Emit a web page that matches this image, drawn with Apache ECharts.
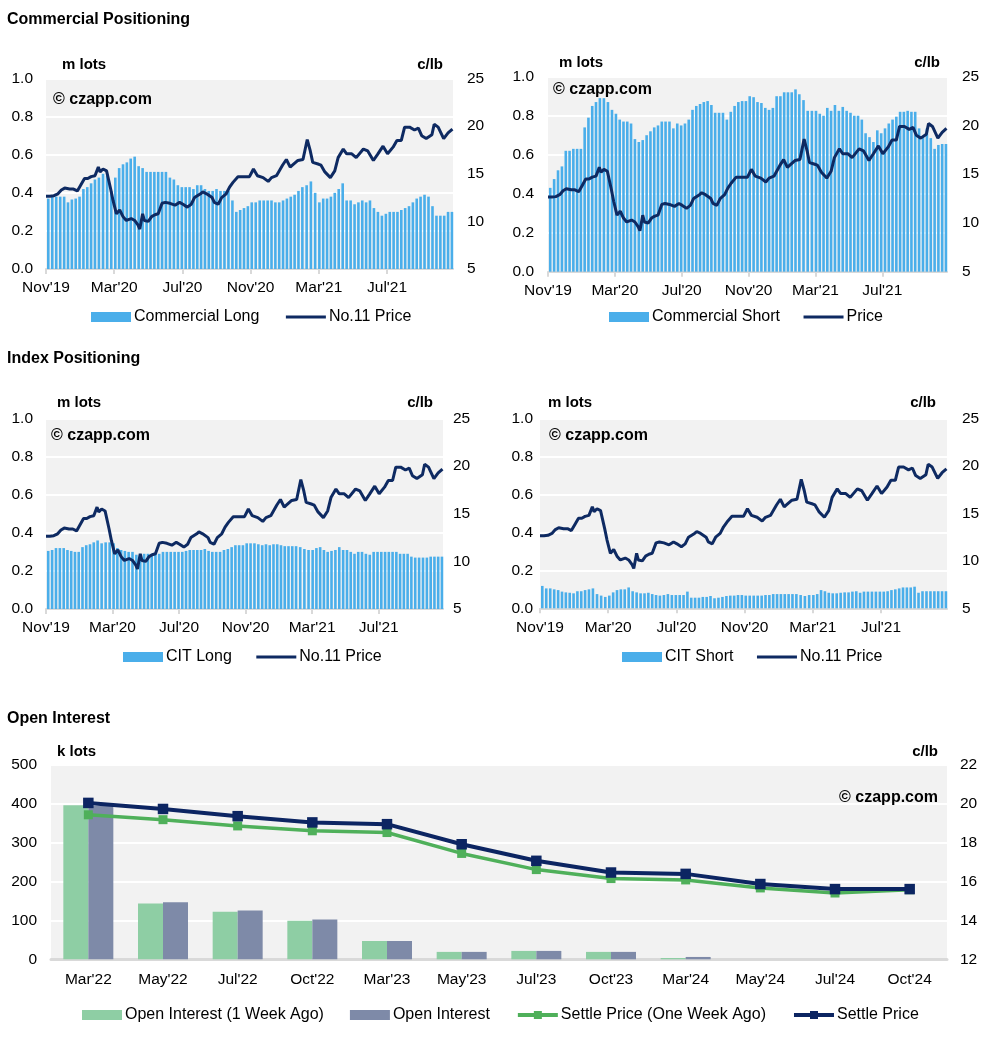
<!DOCTYPE html>
<html><head><meta charset="utf-8">
<script src="https://cdn.jsdelivr.net/npm/echarts@6/dist/echarts.min.js"></script>
<style>html,body{margin:0;padding:0;background:#fff}#c{width:1002px;height:1044px}</style>
</head><body><div id="c"></div>
<script>
// ---------- DATA ----------
const weekStart = '2019-11-05';   // first weekly (COT) report date
const commercialLong = [
 0.37,0.38,0.38,0.38, 0.38,0.35,0.365,0.37,0.38, 0.42,0.43,0.45,0.47, 0.48,0.50,0.49,0.41,
 0.48,0.53,0.55,0.56,0.58, 0.59,0.54,0.53,0.51, 0.51,0.51,0.51,0.51, 0.51,0.48,0.47,0.44,0.43,
 0.43,0.43,0.42,0.44, 0.44,0.42,0.41,0.41, 0.42,0.41,0.41,0.41,0.36, 0.30,0.31,0.32,0.33,
 0.35,0.35,0.36,0.36, 0.36,0.36,0.35,0.35,0.36, 0.37,0.38,0.39,0.41, 0.43,0.44,0.46,0.40,
 0.35,0.37,0.37,0.38,0.40, 0.42,0.45,0.36,0.36, 0.34,0.35,0.36,0.35, 0.36,0.32,0.30,0.28,0.29,
 0.30,0.30,0.30,0.31, 0.32,0.33,0.35,0.37,0.38, 0.39,0.38,0.33,0.28, 0.28,0.28,0.30,0.30
];
const commercialShort = [
 0.43,0.475,0.52,0.54, 0.62,0.62,0.63,0.63,0.63, 0.74,0.79,0.85,0.87, 0.89,0.89,0.87,0.83,
 0.81,0.78,0.77,0.77,0.76, 0.68,0.665,0.675,0.70, 0.72,0.74,0.75,0.77, 0.77,0.77,0.735,0.76,0.75,
 0.76,0.78,0.83,0.85, 0.86,0.87,0.875,0.855, 0.815,0.815,0.815,0.78,0.82, 0.85,0.87,0.875,0.875,
 0.90,0.895,0.87,0.865, 0.84,0.83,0.84,0.90,0.90, 0.92,0.92,0.92,0.935, 0.91,0.88,0.825,0.825,
 0.825,0.81,0.80,0.84,0.825, 0.855,0.825,0.845,0.825, 0.815,0.80,0.80,0.78, 0.71,0.69,0.665,0.725,0.71,
 0.735,0.76,0.78,0.795, 0.82,0.82,0.825,0.82,0.82, 0.735,0.69,0.735,0.685, 0.63,0.65,0.655,0.655
];
const citLong = [
 0.305,0.31,0.32,0.32, 0.32,0.31,0.305,0.30,0.30, 0.325,0.335,0.34,0.35, 0.36,0.345,0.35,0.35,
 0.345,0.32,0.31,0.305,0.30, 0.30,0.285,0.285,0.29, 0.29,0.29,0.29,0.29, 0.30,0.30,0.30,0.30,0.30,
 0.30,0.305,0.31,0.31, 0.31,0.31,0.315,0.305, 0.30,0.30,0.30,0.31,0.315, 0.325,0.335,0.335,0.335,
 0.345,0.345,0.345,0.34, 0.335,0.34,0.335,0.34,0.34, 0.335,0.33,0.33,0.33, 0.33,0.325,0.315,0.31,
 0.31,0.32,0.325,0.31,0.30, 0.305,0.31,0.325,0.31, 0.31,0.30,0.29,0.30, 0.30,0.29,0.285,0.30,0.30,
 0.30,0.30,0.30,0.30, 0.30,0.29,0.29,0.29,0.275, 0.27,0.27,0.27,0.27, 0.275,0.275,0.275,0.275
];
const citShort = [
 0.118,0.105,0.105,0.10, 0.096,0.088,0.084,0.082,0.079, 0.09,0.09,0.096,0.10, 0.105,0.075,0.067,0.06,
 0.067,0.084,0.096,0.10,0.10, 0.11,0.09,0.084,0.079, 0.079,0.082,0.075,0.07, 0.067,0.07,0.075,0.07,0.07,
 0.07,0.07,0.088,0.056, 0.056,0.056,0.06,0.06, 0.065,0.053,0.056,0.06,0.065, 0.067,0.067,0.07,0.07,
 0.067,0.067,0.067,0.067, 0.067,0.07,0.07,0.075,0.075, 0.075,0.075,0.075,0.075, 0.075,0.07,0.065,0.07,
 0.07,0.075,0.096,0.09,0.082, 0.079,0.079,0.082,0.084, 0.084,0.088,0.09,0.082, 0.088,0.088,0.088,0.088,0.088,
 0.088,0.09,0.096,0.10, 0.105,0.11,0.11,0.11,0.114, 0.082,0.09,0.09,0.09, 0.09,0.09,0.09,0.09
];
const priceDates = [
 '2019-11-01','2019-11-08','2019-11-15','2019-11-22','2019-11-28','2019-12-04','2019-12-13','2019-12-20','2019-12-27',
 '2020-01-03','2020-01-09','2020-01-15','2020-01-21','2020-01-28','2020-02-03','2020-02-06','2020-02-11','2020-02-17',
 '2020-02-24','2020-02-28','2020-03-05','2020-03-11','2020-03-17','2020-03-23','2020-04-01','2020-04-07','2020-04-13',
 '2020-04-16','2020-04-21','2020-04-24','2020-05-01','2020-05-07','2020-05-13','2020-05-19','2020-05-26','2020-06-01',
 '2020-06-09','2020-06-18','2020-06-26','2020-07-02','2020-07-10','2020-07-17','2020-07-23','2020-08-03','2020-08-07',
 '2020-08-14','2020-08-24','2020-08-28','2020-09-04','2020-09-10','2020-09-18','2020-09-24','2020-09-30','2020-10-09',
 '2020-10-21','2020-10-30','2020-11-06','2020-11-13','2020-11-23','2020-12-02','2020-12-08','2020-12-17','2020-12-28',
 '2021-01-04','2021-01-11','2021-01-15','2021-01-25','2021-02-03','2021-02-10','2021-02-15','2021-02-19','2021-03-01',
 '2021-03-05','2021-03-12','2021-03-22','2021-03-30','2021-04-05','2021-04-14','2021-04-20','2021-04-29','2021-05-07',
 '2021-05-20','2021-05-28','2021-06-07','2021-06-15','2021-06-24','2021-07-02','2021-07-12','2021-07-19','2021-07-27',
 '2021-08-02','2021-08-11','2021-08-20','2021-08-27','2021-09-02','2021-09-10','2021-09-20','2021-09-24','2021-10-01',
 '2021-10-11','2021-10-19','2021-10-27'
];
const priceValues = [
 12.65,12.65,12.7,12.9,13.3,13.5,13.4,13.4,13.2,
 13.9,14.5,14.5,14.7,14.8,15.7,15.2,15.5,15.3,
 13.4,12.2,10.8,11.2,10.5,10.1,10.3,10.1,9.6,
 9.2,10.8,10.1,10.0,10.5,10.7,10.8,11.9,12.0,
 11.9,11.7,12.0,11.8,11.5,11.8,12.5,12.9,13.1,
 12.9,12.5,12.0,11.8,12.5,12.9,13.6,14.1,14.7,
 14.7,14.7,15.5,14.8,14.6,14.2,14.6,14.8,15.9,
 16.5,15.7,15.9,16.4,16.5,18.6,17.4,16.2,16.0,
 15.9,15.2,14.6,15.3,16.7,17.6,17.1,17.1,16.7,
 17.6,17.4,16.4,17.1,17.9,17.1,17.8,18.5,18.5,
 19.9,19.9,19.6,19.8,19.0,18.7,19.1,20.2,19.9,
 18.7,19.3,19.7
];
const timeTickLabels = ["Nov'19","Mar'20","Jul'20","Nov'20","Mar'21","Jul'21"];

const oiCategories = ["Mar'22","May'22","Jul'22","Oct'22","Mar'23","May'23","Jul'23","Oct'23","Mar'24","May'24","Jul'24","Oct'24"];
const oiWeekAgo   = [395,143,122,99,47,19,21.5,19,3.4,0,0,0];
const oiNow       = [393,146,125,102,47,19,21.5,19,6,0,0,0];
const settleWeekAgo = [19.41,19.16,18.84,18.59,18.50,17.43,16.60,16.14,16.07,15.66,15.40,15.57];
const settleNow     = [20.02,19.71,19.34,19.02,18.93,17.90,17.05,16.45,16.38,15.86,15.60,15.60];

// ---------- HELPERS ----------
const FONT = "'Liberation Sans', Arial, sans-serif";
const BAR_BLUE = '#4aaeea', NAVY = '#0e2a62';
function monthIndex(s){
  const [y,m,d] = s.split('-').map(Number);
  const dim = new Date(Date.UTC(y, m, 0)).getUTCDate();
  return (y-2019)*12 + (m-11) + (d-1)/dim;
}
function weekDates(start, n){
  const t0 = Date.parse(start+'T00:00:00Z'), out=[];
  for (let i=0;i<n;i++) out.push(new Date(t0 + i*7*864e5).toISOString().slice(0,10));
  return out;
}
const weeks = weekDates(weekStart, commercialLong.length);
const priceSeriesData = priceDates.map((d,i)=>[monthIndex(d), priceValues[i]]);

const panels = [
  {left:46, top:78.6, width:407, height:190.4, bars:commercialLong, barName:'Commercial Long', lineName:'No.11 Price', lm:13, rm:14, lg:{left:91, top:309, gap:25},
   texts:{mlots:[62,65], clb:[443,65], cz:[53,100]}},
  {left:548, top:76.7, width:399, height:195, bars:commercialShort, barName:'Commercial Short', lineName:'Price', lm:14, rm:15, lg:{left:609, top:309, gap:22},
   texts:{mlots:[559,63], clb:[940,63], cz:[553,90]}},
  {left:46, top:418.6, width:397, height:190.4, bars:citLong, barName:'CIT Long', lineName:'No.11 Price', lm:13, rm:10, lg:{left:123, top:649, gap:23},
   texts:{mlots:[57,403], clb:[433,403], cz:[51,436]}},
  {left:540, top:418.7, width:407, height:189.6, bars:citShort, barName:'CIT Short', lineName:'No.11 Price', lm:7, rm:15, lg:{left:622, top:649, gap:22},
   texts:{mlots:[548,403], clb:[936,403], cz:[549,436]}}
];

const grid=[], xAxis=[], yAxis=[], series=[], legend=[], graphic=[];
const labelStyle = {color:'#000', fontFamily:FONT, fontSize:15.5};
const hiddenSymbol = {color:'rgba(0,0,0,0)', borderColor:'rgba(0,0,0,0)', borderWidth:0, opacity:0};

function txt(text, x, y, size, align, bold){
  graphic.push({type:'text', x:x, y:y, z:100, zlevel:0, silent:true,
    style:{text:text, x:0, y:0, fill:'#000', font:(bold?'bold ':'')+size+'px '+FONT,
      textAlign:align, align:align, textVerticalAlign:'middle', verticalAlign:'middle'}});
}

panels.forEach((p,i)=>{
  grid.push({left:p.left, top:p.top, width:p.width, height:p.height, show:true, backgroundColor:'#f2f2f2', borderWidth:0, containLabel:false});
  xAxis.push({type:'value', gridIndex:i, min:0, max:23.87,
    axisLine:{show:true, lineStyle:{color:'#d9d9d9', width:2}},
    axisTick:{show:true, length:5, lineStyle:{color:'#d9d9d9', width:2}, customValues:[0,4,8,12,16,20]},
    axisLabel:{...labelStyle, margin:11, customValues:[0,4,8,12,16,20], formatter:v=>timeTickLabels[Math.round(v/4)]||''},
    splitLine:{show:false}});
  yAxis.push({type:'value', gridIndex:i, min:0, max:1, interval:0.2, position:'left',
    axisLine:{show:false}, axisTick:{show:false},
    axisLabel:{...labelStyle, margin:p.lm, formatter:v=>v.toFixed(1)},
    splitLine:{show:true, lineStyle:{color:'#ffffff', width:2}}});
  yAxis.push({type:'value', gridIndex:i, min:5, max:25, interval:5, position:'right',
    axisLine:{show:false}, axisTick:{show:false},
    axisLabel:{...labelStyle, margin:p.rm},
    splitLine:{show:false}});
  series.push({type:'bar', name:p.barName, xAxisIndex:i, yAxisIndex:2*i, barWidth:2.6,
    itemStyle:{color:BAR_BLUE}, data:weeks.map((d,k)=>[monthIndex(d), p.bars[k]]), animation:false});
  series.push({type:'line', name:p.lineName, xAxisIndex:i, yAxisIndex:2*i+1, symbol:'none', showSymbol:false,
    lineStyle:{color:NAVY, width:3}, itemStyle:{color:NAVY}, data:priceSeriesData, animation:false, z:5});
  legend.push({left:p.lg.left, top:p.lg.top, padding:0, itemWidth:40, itemHeight:10, itemGap:p.lg.gap,
    textStyle:{color:'#000', fontFamily:FONT, fontSize:16, padding:[0,0,0,-2]},
    data:[{name:p.barName, icon:'rect'}, {name:p.lineName, itemStyle:hiddenSymbol, lineStyle:{color:NAVY, width:3, opacity:1}}],
    selectedMode:false});
  txt('m lots', p.texts.mlots[0], p.texts.mlots[1], 15, 'left', true);
  txt('c/lb', p.texts.clb[0], p.texts.clb[1], 15, 'right', true);
  txt('\u00a9 czapp.com', p.texts.cz[0], p.texts.cz[1], 16, 'left', true);
});

// bottom open interest chart
const gi = panels.length;
grid.push({left:51, top:764.3, width:896, height:195, show:true, backgroundColor:'#f2f2f2', borderWidth:0});
xAxis.push({type:'category', gridIndex:gi, data:oiCategories,
  axisLine:{show:true, lineStyle:{color:'#d9d9d9', width:3}}, axisTick:{show:false},
  axisLabel:{...labelStyle, margin:12, interval:0}});
yAxis.push({type:'value', gridIndex:gi, min:0, max:500, interval:100, position:'left',
  axisLine:{show:false}, axisTick:{show:false}, axisLabel:{...labelStyle, margin:14},
  splitLine:{show:true, lineStyle:{color:'#ffffff', width:2}}});
yAxis.push({type:'value', gridIndex:gi, min:12, max:22, interval:2, position:'right',
  axisLine:{show:false}, axisTick:{show:false}, axisLabel:{...labelStyle, margin:13},
  splitLine:{show:false}});
const yl = 2*gi, yr = 2*gi+1;
series.push({type:'bar', name:'Open Interest (1 Week Ago)', xAxisIndex:gi, yAxisIndex:yl, barWidth:25, barGap:'0%',
  itemStyle:{color:'#8ecea4'}, data:oiWeekAgo, animation:false});
series.push({type:'bar', name:'Open Interest', xAxisIndex:gi, yAxisIndex:yl, barWidth:25, barGap:'0%',
  itemStyle:{color:'#7e8aa8'}, data:oiNow, animation:false});
series.push({type:'line', name:'Settle Price (One Week Ago)', xAxisIndex:gi, yAxisIndex:yr, symbol:'rect', symbolSize:9,
  lineStyle:{color:'#4fb05a', width:3.5}, itemStyle:{color:'#4fb05a'}, data:settleWeekAgo, animation:false, z:4});
series.push({type:'line', name:'Settle Price', xAxisIndex:gi, yAxisIndex:yr, symbol:'rect', symbolSize:10.5,
  lineStyle:{color:'#0c2562', width:4}, itemStyle:{color:'#0c2562'}, data:settleNow, animation:false, z:5});
legend.push({left:82, top:1007, padding:0, itemWidth:40, itemHeight:10, itemGap:26, selectedMode:false,
  textStyle:{color:'#000', fontFamily:FONT, fontSize:16, padding:[0,0,0,-2]},
  data:[{name:'Open Interest (1 Week Ago)', icon:'rect'}, {name:'Open Interest', icon:'rect'},
        {name:'Settle Price (One Week Ago)', lineStyle:{width:4}}, {name:'Settle Price', lineStyle:{width:4}}]});
txt('k lots', 57, 752, 15, 'left', true);
txt('c/lb', 938, 752, 15, 'right', true);
txt('\u00a9 czapp.com', 938, 798, 16, 'right', true);

// section titles
txt('Commercial Positioning', 7, 20, 16, 'left', true);
txt('Index Positioning', 7, 359, 16, 'left', true);
txt('Open Interest', 7, 719, 16, 'left', true);

const chart = echarts.init(document.getElementById('c'), null, {renderer:'canvas', width:1002, height:1044});
chart.setOption({animation:false, backgroundColor:'#ffffff', grid, xAxis, yAxis, series, legend, graphic});
</script></body></html>
